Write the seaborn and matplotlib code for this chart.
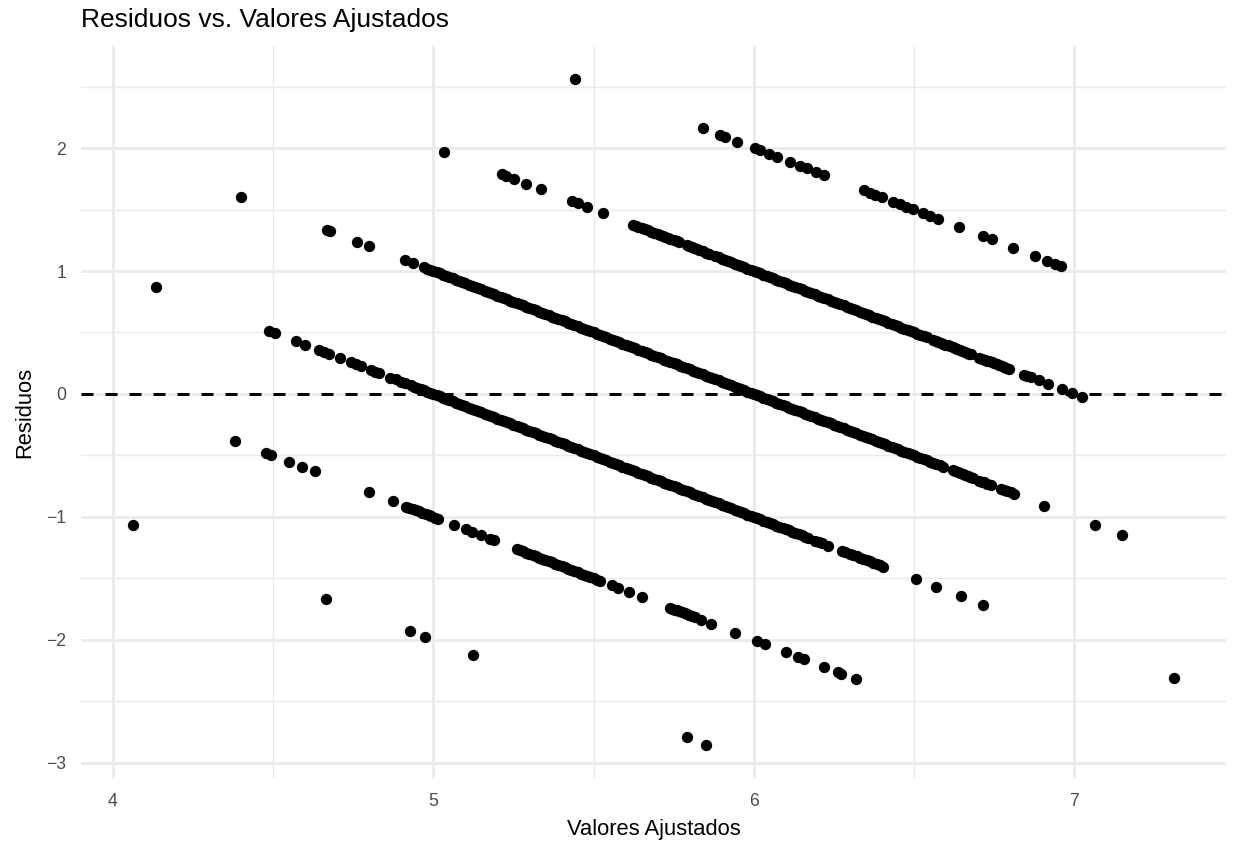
import numpy as np
import pandas as pd
import matplotlib
matplotlib.use("Agg")
import matplotlib.pyplot as plt
from matplotlib.ticker import MultipleLocator
import seaborn as sns

# ---- data: fitted values grouped by observed (integer) response ----
observed_levels = [3, 4, 5, 6, 7, 8]

fitted_obs3 = [4.063, 4.665, 4.926, 4.975, 5.123, 5.791, 5.852]

fitted_obs4 = [4.381, 4.477, 4.493, 4.549, 4.591, 4.630, 4.800, 4.874,
               4.915, 4.925, 4.935, 4.946, 4.955, 4.965, 4.977, 4.985, 4.993, 5.005, 5.016,
               5.065, 5.101, 5.122, 5.149, 5.178, 5.189,
               5.26, 5.27, 5.28, 5.29, 5.30, 5.31, 5.32, 5.33, 5.34, 5.35,
               5.36, 5.37, 5.38, 5.39, 5.40, 5.41, 5.42, 5.43, 5.44, 5.45,
               5.46, 5.47, 5.48, 5.49, 5.50, 5.51, 5.52,
               5.556, 5.577, 5.611, 5.651,
               5.737, 5.745, 5.753, 5.760, 5.768, 5.776, 5.784, 5.791, 5.799, 5.807,
               5.815, 5.836, 5.867, 5.941, 6.010, 6.036,
               6.099, 6.137, 6.158, 6.219, 6.263, 6.273, 6.319]

fitted_obs5 = [4.134, 4.488, 4.505, 4.570, 4.598, 4.643, 4.658, 4.674, 4.710, 4.743,
               4.758, 4.773, 4.805, 4.818, 4.832, 4.866, 4.882, 4.899, 4.912,
               4.93, 4.94, 4.95, 4.96, 4.97, 4.98, 4.99,
               5.00, 5.01, 5.02, 5.03, 5.04, 5.05, 5.06, 5.07, 5.08, 5.09,
               5.10, 5.11, 5.12, 5.13, 5.14, 5.15, 5.16, 5.17, 5.18, 5.19,
               5.20, 5.21, 5.22, 5.23, 5.24, 5.25, 5.26, 5.27, 5.28, 5.29,
               5.30, 5.31, 5.32, 5.33, 5.34, 5.35, 5.36, 5.37, 5.38, 5.39,
               5.40, 5.41, 5.42, 5.43, 5.44, 5.45, 5.46, 5.47, 5.48, 5.49,
               5.50, 5.51, 5.52, 5.53, 5.54, 5.55, 5.56, 5.57, 5.58, 5.59,
               5.60, 5.61, 5.62, 5.63, 5.64, 5.65, 5.66, 5.67, 5.68, 5.69,
               5.70, 5.71, 5.72, 5.73, 5.74, 5.75, 5.76, 5.77, 5.78, 5.79,
               5.80, 5.81, 5.82, 5.83, 5.84, 5.85, 5.86, 5.87, 5.88, 5.89,
               5.90, 5.91, 5.92, 5.93, 5.94, 5.95, 5.96, 5.97, 5.98, 5.99,
               6.00, 6.01, 6.02, 6.03, 6.04, 6.05, 6.06, 6.07, 6.08, 6.09,
               6.10, 6.11, 6.12, 6.13, 6.14, 6.15, 6.16, 6.17,
               6.192, 6.203, 6.213, 6.233,
               6.275, 6.285, 6.300, 6.310, 6.321, 6.331, 6.342, 6.352, 6.362, 6.372,
               6.383, 6.393, 6.404,
               6.505, 6.569, 6.645, 6.714, 7.311]

fitted_obs6 = [4.401, 4.667, 4.677, 4.761, 4.799, 4.913, 4.938,
               4.97, 4.98, 4.99,
               5.00, 5.01, 5.02, 5.03, 5.04, 5.05, 5.06, 5.07, 5.08, 5.09,
               5.10, 5.11, 5.12, 5.13, 5.14, 5.15, 5.16, 5.17, 5.18, 5.19,
               5.20, 5.21, 5.22, 5.23, 5.24, 5.25, 5.26, 5.27, 5.28, 5.29,
               5.30, 5.31, 5.32, 5.33, 5.34, 5.35, 5.36, 5.37, 5.38, 5.39,
               5.40, 5.41, 5.42, 5.43, 5.44, 5.45, 5.46, 5.47, 5.48, 5.49,
               5.50, 5.51, 5.52, 5.53, 5.54, 5.55, 5.56, 5.57, 5.58, 5.59,
               5.60, 5.61, 5.62, 5.63, 5.64, 5.65, 5.66, 5.67, 5.68, 5.69,
               5.70, 5.71, 5.72, 5.73, 5.74, 5.75, 5.76, 5.77, 5.78, 5.79,
               5.80, 5.81, 5.82, 5.83, 5.84, 5.85, 5.86, 5.87, 5.88, 5.89,
               5.90, 5.91, 5.92, 5.93, 5.94, 5.95, 5.96, 5.97, 5.98, 5.99,
               6.00, 6.01, 6.02, 6.03, 6.04, 6.05, 6.06, 6.07, 6.08, 6.09,
               6.10, 6.11, 6.12, 6.13, 6.14, 6.15, 6.16, 6.17, 6.18, 6.19,
               6.20, 6.21, 6.22, 6.23, 6.24, 6.25, 6.26, 6.27, 6.28, 6.29,
               6.30, 6.31, 6.32, 6.33, 6.34, 6.35, 6.36, 6.37, 6.38, 6.39,
               6.40, 6.41, 6.42, 6.43, 6.44, 6.45, 6.46, 6.47, 6.48, 6.49,
               6.50, 6.51, 6.52, 6.53, 6.54, 6.55, 6.56, 6.57, 6.58, 6.59,
               6.621, 6.629, 6.636, 6.644, 6.652, 6.660, 6.667, 6.675, 6.683,
               6.704, 6.712, 6.719, 6.729, 6.740, 6.771, 6.781, 6.791, 6.801,
               6.812, 6.907, 7.065, 7.148]

fitted_obs7 = [5.032, 5.213, 5.226, 5.252, 5.290, 5.336, 5.432, 5.451, 5.480, 5.529,
               5.622, 5.631, 5.640, 5.650, 5.660, 5.670, 5.680, 5.690, 5.700,
               5.708, 5.716, 5.724, 5.732, 5.740, 5.750, 5.760, 5.768,
               5.790, 5.798, 5.806, 5.814, 5.822, 5.830, 5.840, 5.850, 5.860,
               5.88, 5.89,
               5.90, 5.91, 5.92, 5.93, 5.94, 5.95, 5.96, 5.97, 5.98, 5.99,
               6.00, 6.01, 6.02, 6.03, 6.04, 6.05, 6.06, 6.07, 6.08, 6.09,
               6.10, 6.11, 6.12, 6.13, 6.14, 6.15, 6.16, 6.17, 6.18, 6.19,
               6.20, 6.21, 6.22, 6.23, 6.24, 6.25, 6.26, 6.27, 6.28, 6.29,
               6.30, 6.31, 6.32, 6.33, 6.34, 6.35, 6.36, 6.37, 6.38, 6.39,
               6.40, 6.41, 6.42, 6.43, 6.44, 6.45, 6.46, 6.47, 6.48, 6.49,
               6.50, 6.51, 6.52, 6.53, 6.54,
               6.560, 6.568, 6.575, 6.583, 6.590, 6.598, 6.605, 6.613, 6.620, 6.628,
               6.635, 6.643, 6.650, 6.658, 6.665, 6.672, 6.678,
               6.704, 6.712, 6.720, 6.728, 6.735, 6.743, 6.750, 6.758, 6.765, 6.773,
               6.780, 6.788, 6.796,
               6.843, 6.853, 6.864, 6.889, 6.918, 6.962, 6.993, 7.024]

fitted_obs8 = [5.441, 5.840, 5.896, 5.910, 5.949, 6.003, 6.020, 6.048, 6.071, 6.113,
               6.145, 6.165, 6.193, 6.220, 6.344, 6.363, 6.378, 6.399, 6.435, 6.456,
               6.476, 6.497, 6.528, 6.549, 6.574, 6.639, 6.716, 6.743, 6.810, 6.877,
               6.915, 6.941, 6.960]

title = "Residuos vs. Valores Ajustados"
x_label = "Valores Ajustados"
y_label = "Residuos"
x_ticks = [4, 5, 6, 7]
y_ticks = [-3, -2, -1, 0, 1, 2]

# ---- build the frame ----
groups = [fitted_obs3, fitted_obs4, fitted_obs5, fitted_obs6, fitted_obs7, fitted_obs8]
rows = []
for obs, fits in zip(observed_levels, groups):
    for f in fits:
        rows.append((f, obs - f))
df = pd.DataFrame(rows, columns=["fitted", "resid"])

# ---- style ----
sns.set_theme(style="white")
plt.rcParams["font.family"] = ["Liberation Sans", "DejaVu Sans"]

W, H, DPI = 1235, 845, 144
fig = plt.figure(figsize=(W / DPI, H / DPI), dpi=DPI)
left, right, top, bottom = 81, 1226, 46, 778
ax = fig.add_axes([left / W, 1 - bottom / H, (right - left) / W, (bottom - top) / H])

grid_col = "#EBEBEB"
ax.set_axisbelow(True)
ax.axhline(0, color="black", linewidth=1.5, linestyle=(0, (4, 4)), zorder=1.5)
sns.scatterplot(data=df, x="fitted", y="resid", color="black", s=32, linewidth=0,
                ax=ax, zorder=3, legend=False)

# ggplot-like 5% expansion
xmin, xmax = df["fitted"].min(), df["fitted"].max()
ymin, ymax = df["resid"].min(), df["resid"].max()
dx, dy = (xmax - xmin) * 0.05, (ymax - ymin) * 0.05
ax.set_xlim(xmin - dx, xmax + dx)
ax.set_ylim(ymin - dy, ymax + dy)

ax.set_xticks(x_ticks)
ax.set_yticks(y_ticks)
ax.xaxis.set_minor_locator(MultipleLocator(0.5))
ax.yaxis.set_minor_locator(MultipleLocator(0.5))
ax.grid(which="major", color=grid_col, linewidth=1.42)
ax.grid(which="minor", color=grid_col, linewidth=0.71)
for s in ax.spines.values():
    s.set_visible(False)
ax.tick_params(which="both", length=0)
ax.tick_params(axis="x", labelsize=8.8, labelcolor="#4D4D4D", pad=7.5)
ax.tick_params(axis="y", labelsize=8.8, labelcolor="#4D4D4D", pad=7.5)
ax.set_xlabel("")
ax.set_ylabel("")

fig.text(left / W, 1 - 27 / H, title, ha="left", va="baseline", fontsize=13.2, color="black")
fig.text((left + right) / 2 / W, 1 - 835 / H, x_label, ha="center", va="baseline",
         fontsize=11, color="black")
fig.text(30 / W, 1 - (top + bottom) / 2 / H, y_label, ha="center", va="baseline",
         rotation=90, fontsize=11, color="black", rotation_mode="anchor")

fig.savefig("out.png", dpi=DPI, facecolor="white")
